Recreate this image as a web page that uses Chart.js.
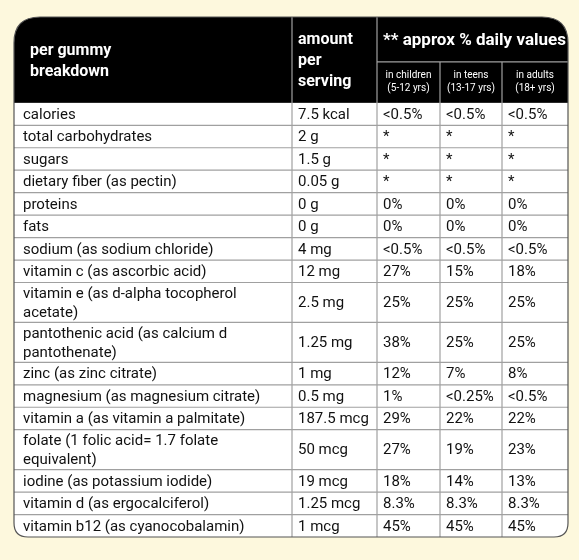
<!DOCTYPE html><html><head><meta charset="utf-8">
<script src="https://cdn.jsdelivr.net/npm/chart.js@4"></script>
<style>html,body{margin:0;padding:0;background:#fff}canvas{display:block}</style></head><body>
<canvas id="c" width="579" height="560"></canvas>
<script>
const nutrients=["calories","total carbohydrates","sugars","dietary fiber (as pectin)","proteins","fats","sodium (as sodium chloride)","vitamin c (as ascorbic acid)","vitamin e (as d-alpha tocopherol\nacetate)","pantothenic acid (as calcium d\npantothenate)","zinc (as zinc citrate)","magnesium (as magnesium citrate)","vitamin a (as vitamin a palmitate)","folate (1 folic acid= 1.7 folate\nequivalent)","iodine (as potassium iodide)","vitamin d (as ergocalciferol)","vitamin b12 (as cyanocobalamin)"];
const amounts=["7.5 kcal","2 g","1.5 g","0.05 g","0 g","0 g","4 mg","12 mg","2.5 mg","1.25 mg","1 mg","0.5 mg","187.5 mcg","50 mcg","19 mcg","1.25 mcg","1 mcg"];
const children=["<0.5%","*","*","*","0%","0%","<0.5%","27%","25%","38%","12%","1%","29%","27%","18%","8.3%","45%"];
const teens=["<0.5%","*","*","*","0%","0%","<0.5%","15%","25%","25%","7%","<0.25%","22%","19%","14%","8.3%","45%"];
const adults=["<0.5%","*","*","*","0%","0%","<0.5%","18%","25%","25%","8%","<0.5%","22%","23%","13%","8.3%","45%"];
const headers=["per gummy\nbreakdown","amount\nper\nserving","** approx % daily values"];
const subHeaders=["in children\n(5-12 yrs)","in teens\n(13-17 yrs)","in adults\n(18+ yrs)"];

const colEdges=[0,278,363,426,488,554];
const HEAD=86,SPLIT=45,ROW=22.5,ROW2=40;
const rowEdges=[HEAD];
nutrients.forEach(n=>rowEdges.push(rowEdges[rowEdges.length-1]+(n.includes("\n")?ROW2:ROW)));
const total=rowEdges[rowEdges.length-1];

function rr(ctx,x,y,w,h,tl,tr,br,bl){ctx.beginPath();ctx.moveTo(x+tl,y);ctx.lineTo(x+w-tr,y);ctx.quadraticCurveTo(x+w,y,x+w,y+tr);ctx.lineTo(x+w,y+h-br);ctx.quadraticCurveTo(x+w,y+h,x+w-br,y+h);ctx.lineTo(x+bl,y+h);ctx.quadraticCurveTo(x,y+h,x,y+h-bl);ctx.lineTo(x,y+tl);ctx.quadraticCurveTo(x,y,x+tl,y);ctx.closePath();}
function lines(ctx,t,x,y,lh){const a=t.split("\n");const y0=y-(a.length-1)*lh/2;a.forEach((s,i)=>ctx.fillText(s,x,y0+i*lh));}

const tablePlugin={id:"table",beforeDraw(ch){const c=ch.ctx;c.save();c.fillStyle="#fdf8dd";c.fillRect(0,0,579,560);c.restore();},
afterDraw(ch){
 const c=ch.ctx,X=ch.scales.x,Y=ch.scales.y;const px=v=>X.getPixelForValue(v),py=v=>Y.getPixelForValue(v);
 const L=px(0),R=px(554),T=py(0),B=py(total);
 c.save();
 rr(c,L,T,R-L,B-T,26,26,14,14);c.fillStyle="#fff";c.fill();c.save();c.clip();
 c.fillStyle="#000";c.fillRect(L,T,R-L,py(HEAD)-T);
 c.strokeStyle="#a0a0a0";c.lineWidth=1.2;
 for(let i=1;i<colEdges.length-1;i++){c.beginPath();const x=px(colEdges[i]);c.moveTo(x,i>=3?py(SPLIT):T);c.lineTo(x,B);c.stroke();}
 c.beginPath();c.moveTo(px(colEdges[2]),py(SPLIT));c.lineTo(R,py(SPLIT));c.stroke();
 for(let i=1;i<rowEdges.length-1;i++){c.beginPath();c.moveTo(L,py(rowEdges[i]));c.lineTo(R,py(rowEdges[i]));c.stroke();}
 c.restore();
 rr(c,L,T,R-L,B-T,26,26,14,14);c.strokeStyle="#555";c.lineWidth=1.2;c.stroke();
 c.textBaseline="middle";c.textAlign="left";c.fillStyle="#fff";
 c.font="bold 16px Roboto";lines(c,headers[0],px(0)+16,py(HEAD/2)+2,21);
 lines(c,headers[1],px(colEdges[1])+6,py(HEAD/2)+1,21);
 c.font="bold 17px Roboto";c.fillText(headers[2],px(colEdges[2])+6,py(SPLIT/2)+1);
 c.font="10px Roboto";c.textAlign="center";
 for(let i=0;i<3;i++)lines(c,subHeaders[i],(px(colEdges[i+2])+px(colEdges[i+3]))/2,py((SPLIT+HEAD)/2),13);
 c.fillStyle="#111";c.textAlign="left";c.font="15px Roboto";
 const cols=[nutrients,amounts,children,teens,adults];
 for(let r=0;r<nutrients.length;r++){const yc=py((rowEdges[r]+rowEdges[r+1])/2)+1;
  cols.forEach((arr,k)=>lines(c,arr[r],px(colEdges[k])+(k==0?9:6),yc,19));}
 c.restore();}};

new Chart(document.getElementById("c"),{type:"scatter",data:{datasets:[{data:[]}]},
options:{responsive:false,animation:false,devicePixelRatio:1,layout:{padding:{left:14,right:11,top:17,bottom:23}},
plugins:{legend:{display:false},tooltip:{enabled:false}},
scales:{x:{type:"linear",min:0,max:554,display:false},y:{type:"linear",min:0,max:total,reverse:true,display:false}}},
plugins:[tablePlugin]});
</script></body></html>
